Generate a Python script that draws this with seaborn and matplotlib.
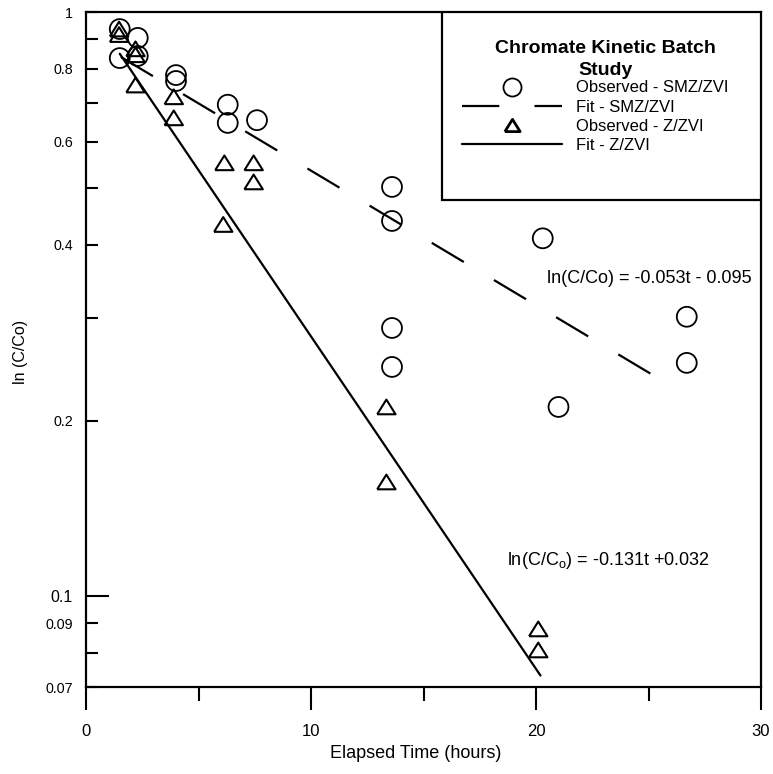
import numpy as np
import pandas as pd
import matplotlib
matplotlib.use("Agg")
import matplotlib.pyplot as plt
import seaborn as sns
from matplotlib.lines import Line2D
from matplotlib.patches import Rectangle
from matplotlib.ticker import FixedLocator, FixedFormatter

# Observed C/Co, SMZ/ZVI batches
t_smz = [1.5, 1.5, 2.3, 2.3, 4.0, 4.0, 6.3, 6.3, 7.6,
         13.6, 13.6, 13.6, 13.6, 20.3, 21.0, 26.7, 26.7]
c_smz = [0.935, 0.834, 0.903, 0.841, 0.78, 0.762, 0.694, 0.646, 0.653,
         0.502, 0.439, 0.288, 0.247, 0.41, 0.211, 0.301, 0.251]

# Observed C/Co, Z/ZVI batches
t_z = [1.47, 1.47, 2.2, 2.2, 2.2, 3.9, 3.9, 6.15, 7.45, 7.45, 6.1,
       13.35, 13.35, 20.1, 20.1]
c_z = [0.935, 0.915, 0.865, 0.845, 0.75, 0.716, 0.659, 0.552, 0.552, 0.512,
       0.433, 0.211, 0.157, 0.088, 0.081]

# First-order fits: ln(C/Co) = k*t + b
fit_names = ["SMZ/ZVI", "Z/ZVI"]
fit_k = [-0.053, -0.131]
fit_b = [-0.095, 0.032]
fit_t0 = [1.55, 1.5]
fit_t1 = [26.0, 20.2]

x_major = [0, 10, 20, 30]
x_minor = [5, 15, 25]
y_major = [0.07, 0.08, 0.09, 0.2, 0.3, 0.4, 0.5, 0.6, 0.7, 0.8, 0.9, 1]
y_major_labels = ["0.07", "", "0.09", "0.2", "", "0.4", "", "0.6", "", "0.8", "", "1"]
y_minor = [0.1]
y_minor_labels = ["0.1"]

legend_title = "Chromate Kinetic Batch\nStudy"
legend_labels = ["Observed - SMZ/ZVI", "Fit - SMZ/ZVI", "Observed - Z/ZVI", "Fit - Z/ZVI"]

sns.set_style("ticks")
plt.rcParams["font.family"] = ["Liberation Sans", "DejaVu Sans"]
for key in ["text.color", "axes.labelcolor", "xtick.color", "ytick.color",
            "axes.edgecolor"]:
    plt.rcParams[key] = "black"

fig = plt.figure(figsize=(7.73, 7.74), dpi=100)
ax = fig.add_axes([86 / 773, 87 / 774, 675 / 773, 675 / 774])

tri = [(-1, -0.8), (1, -0.8), (0, 0.8), (-1, -0.8)]
dash = (0, (16.8, 15.8))

obs_smz = pd.DataFrame({"t": t_smz, "c": c_smz})
obs_z = pd.DataFrame({"t": t_z, "c": c_z})

sns.scatterplot(data=obs_smz, x="t", y="c", marker="o", s=205,
                facecolor="none", edgecolor="black", linewidth=1.3, ax=ax, zorder=3)
sns.scatterplot(data=obs_z, x="t", y="c", marker=tri, s=175,
                facecolor="none", edgecolor="black", linewidth=1.5, ax=ax, zorder=3)

styles = [dash, "-"]
for k, b, t0, t1, ls in zip(fit_k, fit_b, fit_t0, fit_t1, styles):
    tt = np.array([t0, t1])
    sns.lineplot(x=tt, y=np.exp(k * tt + b), color="black", lw=1.6,
                 linestyle=ls, ax=ax, zorder=2)


def eq_text(k, b, sub=False):
    co = "C$_\\mathregular{o}$" if sub else "Co"
    if sub:
        tail = f" +{b:.3f}" if b >= 0 else f" -{abs(b):.3f}"
    else:
        tail = f" + {b:.3f}" if b >= 0 else f" - {abs(b):.3f}"
    return f"ln(C/{co}) = {k:.3f}t{tail}"


ax.text(29.6, 0.35, eq_text(fit_k[0], fit_b[0]), ha="right", va="center", fontsize=13)
ax.text(18.7, 0.115, eq_text(fit_k[1], fit_b[1], sub=True), ha="left", va="center",
        fontsize=13)

ax.set_yscale("log")
ax.set_xlim(0, 30)
ax.set_ylim(0.07, 1)

ax.xaxis.set_major_locator(FixedLocator(x_major))
ax.xaxis.set_minor_locator(FixedLocator(x_minor))
ax.xaxis.set_major_formatter(FixedFormatter([str(v) for v in x_major]))
ax.yaxis.set_major_locator(FixedLocator(y_major))
ax.yaxis.set_major_formatter(FixedFormatter(y_major_labels))
ax.yaxis.set_minor_locator(FixedLocator(y_minor))
ax.yaxis.set_minor_formatter(FixedFormatter(y_minor_labels))

ax.tick_params(axis="x", which="major", direction="out", length=16.5, width=1.5,
               pad=10.5, labelsize=12)
ax.tick_params(axis="x", which="minor", direction="out", length=10, width=1.5)
ax.tick_params(axis="y", which="major", direction="in", length=8.6, width=1.5,
               pad=9.4, labelsize=10.3)
ax.tick_params(axis="y", which="minor", direction="in", length=16.5, width=1.5,
               pad=9.4, labelsize=11.5)

for sp in ax.spines.values():
    sp.set_visible(True)
    sp.set_linewidth(1.6)
    sp.set_color("black")

ax.set_xlabel("Elapsed Time (hours)", fontsize=13, va="center")
ax.set_ylabel("ln (C/Co)", fontsize=11.5, va="center")
ax.xaxis.set_label_coords(0.489, -0.098)
ax.yaxis.set_label_coords(-0.097, 0.497)

# legend box with its bold title
ax.add_patch(Rectangle((0.5274, 0.7215), 0.4726, 0.2785, transform=ax.transAxes,
                       facecolor="white", edgecolor="black", lw=1.6, zorder=4))
ax.text(0.769, 0.9296, legend_title, transform=ax.transAxes, ha="center", va="center",
        fontsize=14, fontweight="bold", linespacing=1.38, zorder=5)

handles = [
    Line2D([], [], marker="o", ls="none", mfc="none", mec="black", ms=13, mew=1.3),
    Line2D([], [], color="black", lw=1.6, ls=dash),
    Line2D([], [], marker=tri, ls="none", mfc="none", mec="black", ms=11, mew=2),
    Line2D([], [], color="black", lw=1.6, ls="-"),
]
leg = ax.legend(handles, legend_labels, loc="upper left",
                bbox_to_anchor=(0.545, 0.9111), frameon=False, borderpad=0,
                handlelength=6.0, handletextpad=0.85, labelspacing=0.25,
                fontsize=12)
leg.set_zorder(5)

fig.savefig("out.png", dpi=100)
